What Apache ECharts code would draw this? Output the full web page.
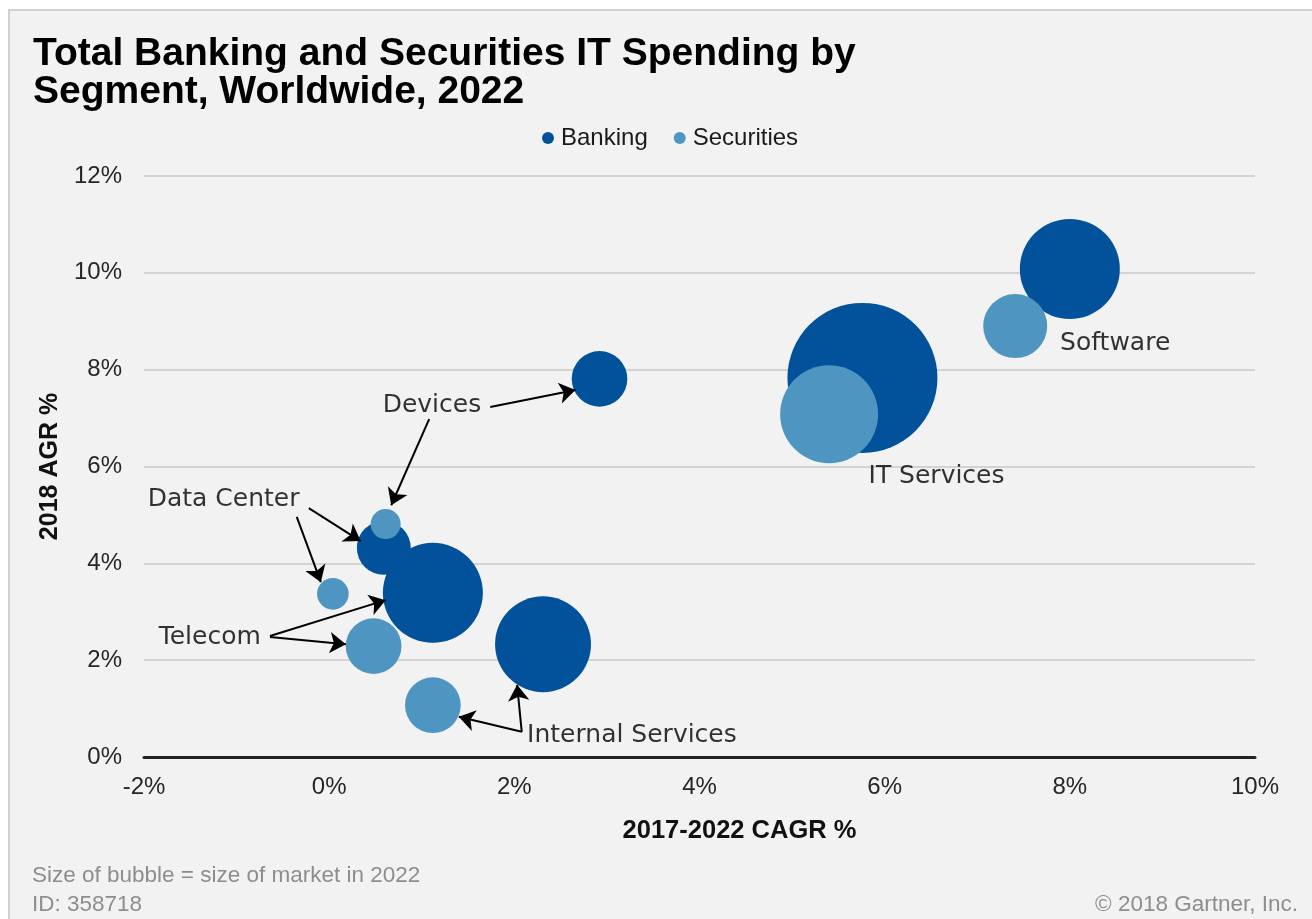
<!DOCTYPE html>
<html>
<head>
<meta charset="utf-8">
<title>Total Banking and Securities IT Spending by Segment, Worldwide, 2022</title>
<script src="https://cdn.jsdelivr.net/npm/echarts@6/dist/echarts.min.js"></script>
<style>
  html, body { margin: 0; padding: 0; background: #ffffff; }
  #panel {
    position: absolute; left: 8px; top: 9px; width: 1320px; height: 930px;
    background: #f1f2f1; border-left: 2px solid #cfd0cf; border-top: 2px solid #cfd0cf;
  }
  #chart { position: absolute; left: 0; top: 0; width: 1312px; height: 919px; }
</style>
</head>
<body>
<div id="panel"></div>
<div id="chart"></div>
<script>
// Segments, in the same order for both series
const segments = ['Data Center', 'Devices', 'Internal Services', 'IT Services', 'Software', 'Telecom'];

// Banking: 2017-2022 CAGR %, 2018 AGR %, relative market size in 2022
const bankingCagr = [0.59, 2.92, 2.31, 5.76, 8.00, 1.12];
const bankingAgr  = [4.32, 7.81, 2.33, 7.83, 10.08, 3.39];
const bankingSize = [29, 31, 92, 225, 100, 100];

// Securities: 2017-2022 CAGR %, 2018 AGR %, relative market size in 2022
const securitiesCagr = [0.04, 0.61, 1.12, 5.40, 7.41, 0.48];
const securitiesAgr  = [3.37, 4.81, 1.07, 7.08, 8.90, 2.29];
const securitiesSize = [10, 9, 31, 96, 41, 31];

// Axis ticks (percent)
const xTicks = [-2, 0, 2, 4, 6, 8, 10];
const yTicks = [0, 2, 4, 6, 8, 10, 12];

// Callout labels and their anchor points (CAGR %, AGR %)
const calloutText = ['Devices', 'Data Center', 'Telecom', 'Internal Services', 'IT Services', 'Software'];
const calloutX    = [1.11, -1.14, -1.29, 3.27, 6.56, 8.49];
const calloutY    = [7.25, 5.31, 2.46, 0.45, 5.80, 8.55];

// Callout arrows: start and end points (CAGR %, AGR %)
const arrowFromX = [1.74, 1.08, -0.22, -0.35, -0.64, -0.64, 2.08, 2.08];
const arrowFromY = [7.23, 6.98, 5.14, 4.96, 2.50, 2.48, 0.52, 0.52];
const arrowToX   = [2.66, 0.67, 0.34, -0.09, 0.61, 0.18, 1.40, 2.03];
const arrowToY   = [7.58, 5.20, 4.46, 3.61, 3.24, 2.33, 0.83, 1.49];

const BANK = '#02529b';
const SEC = '#4f95c1';
const SANS = '"Liberation Sans", Arial, sans-serif';
const CALLOUT_FONT = '"DejaVu Sans", sans-serif';

function bubbles(xs, ys, sizes) {
  return segments.map((name, i) => ({ name: name, value: [xs[i], ys[i], sizes[i]] }));
}
const bubbleSize = v => 10 * Math.sqrt(v[2]);

const chart = echarts.init(document.getElementById('chart'), null, { renderer: 'canvas' });

chart.setOption({
  backgroundColor: 'transparent',
  animation: false,
  title: [
    {
      text: 'Total Banking and Securities IT Spending by\nSegment, Worldwide, 2022',
      left: 28, top: 30,
      textStyle: { fontFamily: SANS, fontSize: 39, fontWeight: 'bold', color: '#000', lineHeight: 38 }
    },
    {
      text: 'Size of bubble = size of market in 2022',
      left: 27, top: 859,
      textStyle: { fontFamily: SANS, fontSize: 22.5, fontWeight: 'normal', color: '#8d8d8d' }
    },
    {
      text: 'ID: 358718',
      left: 27, top: 888,
      textStyle: { fontFamily: SANS, fontSize: 22.5, fontWeight: 'normal', color: '#8d8d8d' }
    },
    {
      text: '\u00A9 2018 Gartner, Inc.',
      right: 9, top: 888,
      textStyle: { fontFamily: SANS, fontSize: 22.5, fontWeight: 'normal', color: '#8d8d8d' }
    }
  ],
  legend: {
    data: ['Banking', 'Securities'],
    left: 537, top: 121,
    icon: 'circle', itemWidth: 12, itemHeight: 12, itemGap: 26,
    textStyle: { fontFamily: SANS, fontSize: 24, color: '#1a1a1a', padding: [0, 0, 0, 2] }
  },
  grid: { left: 144, right: 57, top: 176, bottom: 162 },
  xAxis: {
    type: 'value',
    min: xTicks[0], max: xTicks[xTicks.length - 1], interval: 2,
    name: '2017-2022 CAGR %',
    nameLocation: 'middle', nameGap: 61,
    nameTextStyle: { fontFamily: SANS, fontSize: 25.5, fontWeight: 'bold', color: '#111', padding: [0, 0, 0, 80] },
    axisLine: { show: true, onZero: false, lineStyle: { color: '#222', width: 3 } },
    axisTick: { show: false },
    splitLine: { show: false },
    axisLabel: { margin: 18, fontFamily: SANS, fontSize: 24, color: '#262626', formatter: v => v + '%' }
  },
  yAxis: {
    type: 'value',
    min: yTicks[0], max: yTicks[yTicks.length - 1], interval: 2,
    name: '2018 AGR %',
    nameLocation: 'middle', nameGap: 66, nameRotate: 90,
    nameTextStyle: { fontFamily: SANS, fontSize: 25, fontWeight: 'bold', color: '#111' },
    axisLine: { show: false },
    axisTick: { show: false },
    splitLine: { show: true, lineStyle: { color: '#d2d3d2', width: 2 } },
    axisLabel: { margin: 22, fontFamily: SANS, fontSize: 24, color: '#262626', formatter: v => v + '%' }
  },
  series: [
    {
      name: 'Banking', type: 'scatter', z: 2,
      itemStyle: { color: BANK, opacity: 1 },
      symbolSize: bubbleSize,
      data: bubbles(bankingCagr, bankingAgr, bankingSize)
    },
    {
      name: 'Securities', type: 'scatter', z: 3,
      itemStyle: { color: SEC, opacity: 1 },
      symbolSize: bubbleSize,
      data: bubbles(securitiesCagr, securitiesAgr, securitiesSize)
    },
    {
      name: 'arrows', type: 'lines', coordinateSystem: 'cartesian2d', z: 4, silent: true,
      symbol: ['none', 'arrow'], symbolSize: [14, 16],
      lineStyle: { color: '#000', width: 2, opacity: 1 },
      data: arrowFromX.map((x, i) => ({ coords: [[x, arrowFromY[i]], [arrowToX[i], arrowToY[i]]] }))
    },
    {
      name: 'callouts', type: 'scatter', z: 5, silent: true,
      symbolSize: 0,
      itemStyle: { color: '#000' },
      label: {
        show: true, position: 'inside', formatter: p => p.name,
        fontFamily: CALLOUT_FONT, fontSize: 25, color: '#000'
      },
      data: calloutText.map((t, i) => ({ name: t, value: [calloutX[i], calloutY[i]] }))
    }
  ]
});
</script>
</body>
</html>
